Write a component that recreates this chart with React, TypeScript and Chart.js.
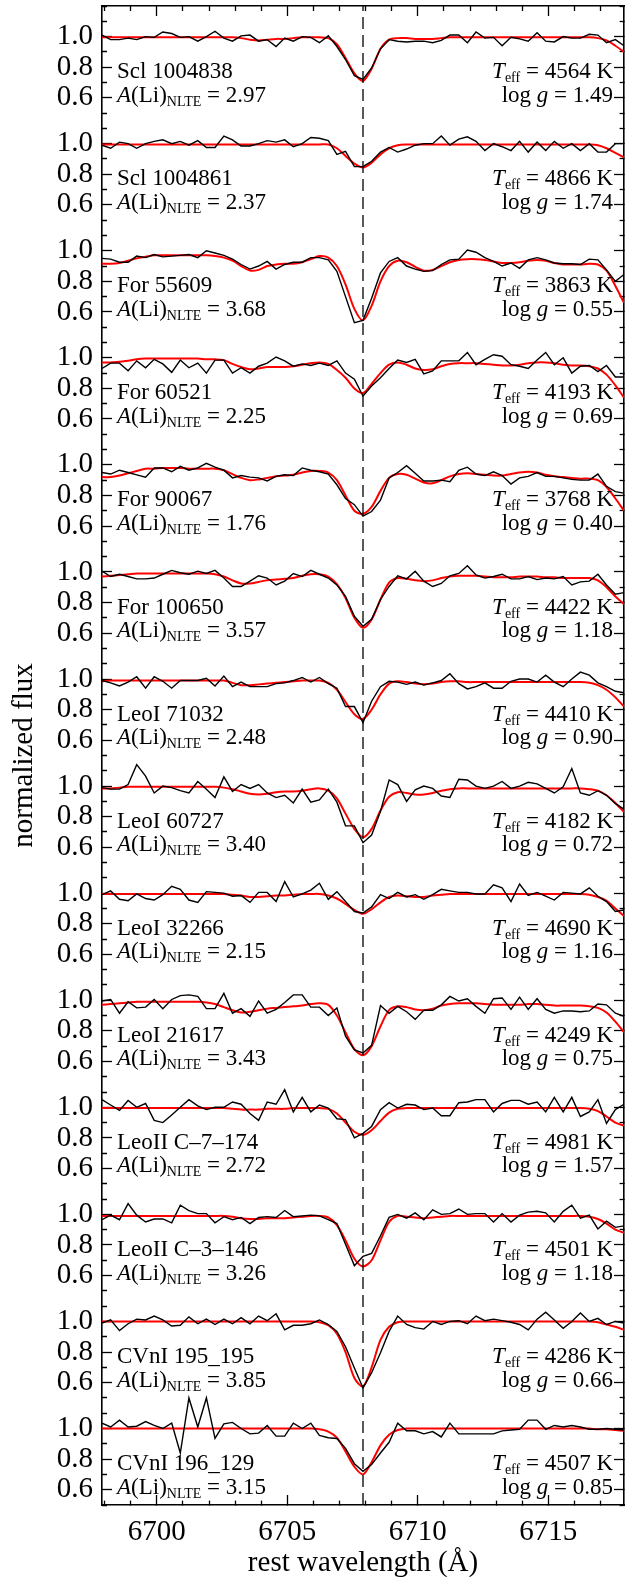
import React, { useEffect, useRef } from 'react';
import { Chart, registerables } from 'chart.js';

Chart.register(...registerables);

const FONT = 'Liberation Serif';
const W = 636;
const H = 1583;

// wavelength grid (Å)
const WAVE = [
  6697.90, 6698.23, 6698.57, 6698.90, 6699.23, 6699.57, 6699.90, 6700.23, 6700.57, 6700.90,
  6701.23, 6701.57, 6701.90, 6702.23, 6702.57, 6702.90, 6703.23, 6703.57, 6703.90, 6704.23,
  6704.57, 6704.90, 6705.23, 6705.57, 6705.90, 6706.23, 6706.57, 6706.90, 6707.23, 6707.57,
  6707.90, 6708.23, 6708.57, 6708.90, 6709.23, 6709.57, 6709.90, 6710.23, 6710.57, 6710.90,
  6711.23, 6711.57, 6711.90, 6712.23, 6712.57, 6712.90, 6713.23, 6713.57, 6713.90, 6714.23,
  6714.57, 6714.90, 6715.23, 6715.57, 6715.90, 6716.23, 6716.57, 6716.90, 6717.23, 6717.57,
  6717.90,
];

const STARS = ['Scl 1004838', 'Scl 1004861', 'For 55609', 'For 60521', 'For 90067', 'For 100650', 'LeoI 71032', 'LeoI 60727', 'LeoI 32266', 'LeoI 21617', 'LeoII C\u20137\u2013174', 'LeoII C\u20133\u2013146', 'CVnI 195_195', 'CVnI 196_129'];
const ALI_NLTE = ['2.97', '2.37', '3.68', '2.25', '1.76', '3.57', '2.48', '3.40', '2.15', '3.43', '2.72', '3.26', '3.85', '3.15'];
const TEFF = ['4564', '4866', '3863', '4193', '3768', '4422', '4410', '4182', '4690', '4249', '4981', '4501', '4286', '4507'];
const LOGG = ['1.49', '1.74', '0.55', '0.69', '0.40', '1.18', '0.90', '0.72', '1.16', '0.75', '1.57', '1.18', '0.66', '0.85'];

// observed spectra (black)
const OBS_SCL_1004838 = [1.01,.98,.98,.99,.98,1.0,.995,1.03,1.02,.995,1.0,.97,1.0,1.035,.99,.97,1.005,1.01,.97,.98,.935,.99,.97,1.0,.995,.96,1.005,.935,.85,.745,.72,.795,.92,.98,.97,.965,.97,.97,.96,.975,1.01,1.01,.96,1.03,.99,.995,.94,.995,.985,.97,1.025,.97,.965,1.0,.99,.99,1.015,1.01,.96,.98,.94];
const OBS_SCL_1004861 = [.99,.97,1.01,1.0,.97,1.0,1.015,1.025,1.0,1.015,.99,1.02,.975,.975,1.05,1.025,.985,.985,1.0,1.02,1.01,1.025,.98,1.0,1.04,1.035,1.02,.93,.95,.85,.85,.885,.945,.975,.945,.965,.99,1.0,1.0,1.05,.99,1.03,1.045,1.015,.955,1.0,.98,.955,1.015,.945,1.01,.955,1.015,.97,1.0,.955,1.0,.945,.945,1.0,1.0];
const OBS_FOR_55609 = [.95,.945,.925,.925,.965,.955,.975,.96,.965,.97,.975,.955,1.0,.985,.97,.945,.91,.88,.9,.93,.88,.91,.925,.925,.955,.955,.94,.865,.7,.53,.545,.69,.855,.93,.955,.9,.88,.865,.87,.91,.94,.945,1.005,.99,.955,.93,.9,.92,.885,.94,.955,.94,.92,.915,.915,.91,.945,.94,.875,.8,.845];
const OBS_FOR_60521 = [.93,.965,.965,.915,.98,.935,.99,.96,.905,.985,.935,.965,.9,.985,.985,.9,.935,.9,.945,.965,1.005,.98,.945,.96,.95,.965,.95,.98,.9,.86,.75,.815,.87,.93,.985,.97,.99,.895,.915,.98,.98,.98,1.035,.955,.99,1.02,1.01,.955,.945,.93,.985,1.035,.955,1.0,.9,.945,.95,.91,.95,.875,.875];
const OBS_FOR_90067 = [.95,.94,.965,.95,.935,.92,.98,.98,.955,.99,.965,.98,1.01,.985,.965,.915,.93,.92,.915,.895,.925,.935,.93,.98,.965,.955,.94,.87,.78,.74,.665,.695,.77,.915,.95,.995,.945,.895,.895,.9,.89,.965,.985,.94,.93,.955,.93,.875,.915,.925,.95,.925,.925,.915,.905,.9,.9,.94,.86,.825,.815];
const OBS_FOR_100650 = [1.005,.97,.985,.97,.955,.955,.96,.985,1.01,.995,.985,1.005,.99,1.01,.96,.905,.905,.94,.975,.96,.915,.94,.99,.97,1.01,.985,.96,.915,.84,.71,.645,.69,.82,.905,.975,.955,1.005,.94,.905,.925,.975,.99,1.04,.98,.96,.97,.985,.955,.955,.97,.95,.96,.955,.97,.915,.935,.94,.985,.915,.855,.865];
const OBS_LEOI_71032 = [.99,.975,.955,.98,1.015,.94,1.015,.985,.94,.99,.99,.99,1.005,.955,1.02,.95,.98,.95,.95,.95,.97,.975,.99,1.01,.98,1.01,.97,.94,.82,.82,.715,.855,.95,.985,.98,.965,.98,.96,.975,.99,1.035,.97,.935,.95,.975,.94,.94,.985,1.0,1.0,.98,1.025,.98,.95,1.0,1.045,1.025,.975,.95,.92,.91];
const OBS_LEOI_60727 = [.99,.98,.98,1.01,1.14,1.065,.955,1.0,.99,.97,.955,1.03,.98,.925,1.06,.965,1.01,.985,1.01,.955,.925,.94,.89,.98,.895,.91,.98,.895,.74,.74,.63,.68,.835,1.04,1.01,.9,.975,1.0,.985,.935,.925,1.045,1.04,1.0,.985,1.0,1.03,.985,1.0,1.025,1.015,.985,.955,.995,1.115,.955,.94,.97,.94,.885,.85];
const OBS_LEOI_32266 = [.99,1.015,.96,.95,.995,.965,.955,.99,1.045,1.025,.955,.94,1.01,1.005,1.0,.98,.985,.94,1.005,1.005,.945,1.075,.975,.995,1.02,1.065,.96,1.01,.945,.88,.87,.91,.99,.965,1.005,.975,.99,.96,.99,1.025,1.015,1.005,1.005,.995,.995,1.055,1.035,.945,1.06,.985,1.005,.98,.955,1.005,1.0,.995,1.035,.98,.945,.88,.89];
const OBS_LEOI_21617 = [.995,1.005,.915,.99,.95,.955,1.005,.945,1.005,1.03,1.035,1.025,.945,.945,1.045,.915,.945,.895,.995,.915,.94,.985,1.035,1.035,.955,.955,.9,.95,.765,.675,.655,.705,.965,.915,.96,.925,.875,.935,.935,.97,1.025,.995,1.01,.96,.915,1.01,1.015,.94,1.02,.94,1.01,.94,.915,.93,.93,.925,.93,.975,.97,.915,.895];
const OBS_LEOII_C7_174 = [1.05,1.015,.98,1.045,1.0,1.025,.915,.9,.95,1.0,1.05,1.01,.985,1.0,1.0,1.035,1.02,.96,.915,1.035,1.02,1.115,.97,1.065,.97,1.015,.995,.925,.92,.8,.83,.875,.985,1.03,.995,1.02,1.015,.985,.995,.945,.945,1.03,1.035,1.05,1.05,.97,1.025,1.045,1.045,1.02,1.035,.97,1.065,.97,1.065,.94,.97,1.05,.895,.985,1.02];
const OBS_LEOII_C3_146 = [.965,.995,.965,1.07,.995,.95,.97,.97,.945,1.06,1.025,1.005,1.005,.945,.985,.965,.98,.94,.98,.985,.98,1.025,.985,.99,.995,.99,.965,.94,.805,.665,.725,.745,.86,.98,1.0,.975,1.01,.965,1.03,1.0,1.005,1.035,1.0,1.005,1.005,.95,1.005,.95,.995,1.015,1.02,1.01,.95,1.02,1.06,.975,.995,.905,.955,.915,.925];
const OBS_CVNI_195_195 = [.99,1.01,.94,.985,1.015,1.01,1.035,1.01,.97,.975,1.03,.985,1.015,.98,1.015,.985,1.025,.985,1.035,1.005,1.05,.945,.975,.975,.985,1.01,.98,.935,.835,.695,.565,.665,.795,.935,1.035,.98,.96,.95,1.0,.98,1.0,1.005,.985,1.035,1.005,1.015,1.005,.995,.98,.945,1.015,1.06,1.01,.955,1.0,1.055,1.0,1.02,.98,1.0,.99];
const OBS_CVNI_196_129 = [1.035,1.01,1.055,1.01,1.015,1.045,1.02,1.0,1.035,.84,1.2,1.01,1.2,.935,1.03,1.04,1.0,.965,.97,1.02,.95,.95,1.035,1.0,1.035,.955,.94,.935,.87,.77,.72,.765,.84,.91,1.035,.985,.985,.965,.98,.945,1.035,.965,.965,.965,.965,.965,.985,.99,.995,1.055,1.055,.995,1.02,1.01,1.02,1.01,.995,.995,1.0,.995,.99];

// synthetic spectra (red)
const MOD_SCL_1004838 = [.995,.995,.995,.995,.995,.995,.995,.995,.995,.995,.995,.995,.995,.995,.995,.995,.99,.98,.975,.98,.985,.985,.99,.995,.995,.995,.99,.95,.86,.76,.71,.79,.92,.98,.99,.99,.985,.985,.985,.99,.995,.995,.995,.995,.995,.995,.995,.995,.995,.995,.995,.995,.995,.995,.995,.995,.995,.99,.975,.94,.9];
const MOD_SCL_1004861 = [.995,.995,.995,.995,.995,.995,.995,.995,.995,.995,.995,.995,.995,.995,.995,.995,.995,.995,.995,.995,.995,.995,.995,.995,.995,.995,.995,.97,.92,.87,.845,.875,.93,.97,.99,.995,.995,.995,.995,.995,.995,.995,.995,.995,.995,.995,.995,.995,.995,.995,.995,.995,.995,.995,.995,.995,.995,.99,.97,.94,.91];
const MOD_FOR_55609 = [.915,.915,.92,.935,.95,.96,.97,.97,.97,.97,.97,.97,.97,.965,.955,.935,.9,.87,.875,.9,.91,.915,.915,.925,.945,.965,.955,.9,.78,.62,.545,.64,.8,.9,.935,.925,.895,.87,.875,.9,.925,.94,.945,.945,.94,.93,.92,.92,.925,.935,.94,.935,.92,.91,.91,.91,.915,.91,.87,.77,.66];
const MOD_FOR_60521 = [.97,.97,.975,.98,.99,.995,.995,.995,.995,.995,.995,.995,.99,.99,.985,.96,.94,.925,.93,.94,.94,.94,.945,.955,.965,.97,.96,.92,.87,.8,.77,.83,.9,.955,.97,.955,.93,.92,.925,.945,.96,.965,.965,.965,.96,.955,.95,.95,.955,.965,.97,.97,.965,.955,.95,.95,.945,.93,.89,.82,.74];
const MOD_FOR_90067 = [.92,.92,.93,.945,.96,.975,.975,.98,.98,.98,.975,.975,.975,.975,.965,.94,.915,.9,.905,.915,.925,.93,.935,.95,.96,.96,.95,.9,.8,.7,.68,.725,.83,.915,.94,.935,.91,.885,.88,.9,.925,.94,.945,.94,.935,.93,.93,.94,.95,.955,.95,.935,.925,.92,.915,.91,.91,.9,.855,.78,.7];
const MOD_FOR_100650 = [.97,.975,.98,.985,.99,.99,.99,.99,.99,.99,.99,.99,.99,.985,.97,.945,.925,.925,.935,.945,.95,.955,.96,.975,.985,.985,.97,.92,.83,.7,.635,.69,.82,.93,.96,.955,.945,.94,.945,.96,.97,.975,.975,.975,.97,.965,.965,.965,.97,.97,.97,.965,.965,.96,.96,.96,.96,.945,.9,.84,.79];
const MOD_LEOI_71032 = [.985,.99,.99,.99,.99,.99,.99,.99,.99,.99,.99,.99,.99,.99,.99,.975,.96,.96,.965,.97,.975,.98,.985,.99,.99,.99,.975,.93,.85,.77,.74,.8,.9,.97,.985,.98,.97,.965,.97,.98,.985,.985,.98,.98,.98,.98,.98,.98,.98,.98,.98,.98,.98,.98,.98,.98,.975,.96,.93,.88,.82];
const MOD_LEOI_60727 = [.985,.985,.99,.995,.995,.995,.995,.995,.995,.995,.995,.995,.995,.995,.99,.98,.965,.95,.945,.95,.96,.965,.965,.97,.98,.985,.97,.92,.82,.72,.665,.72,.84,.93,.96,.955,.945,.945,.955,.97,.98,.985,.985,.985,.985,.985,.985,.985,.985,.985,.985,.985,.985,.985,.985,.985,.98,.97,.94,.89,.83];
const MOD_LEOI_32266 = [.995,.995,.995,.995,.995,.995,.995,.995,.995,.995,.995,.995,.995,.995,.995,.99,.985,.975,.975,.98,.985,.985,.99,.995,.995,.995,.985,.965,.93,.89,.865,.895,.94,.975,.985,.98,.975,.975,.985,.99,.995,.995,.995,.995,.995,.995,.995,.995,.995,.995,.995,.995,.995,.995,.995,.995,.99,.975,.95,.9,.85];
const MOD_LEOI_21617 = [.97,.975,.98,.985,.99,.99,.99,.99,.99,.99,.99,.99,.985,.975,.955,.935,.92,.925,.935,.945,.95,.955,.96,.965,.975,.98,.97,.9,.79,.68,.64,.7,.83,.935,.96,.955,.94,.935,.945,.965,.975,.98,.98,.98,.975,.97,.97,.97,.97,.975,.975,.97,.965,.965,.965,.965,.96,.95,.92,.86,.79];
const MOD_LEOII_C7_174 = [.995,.995,.995,.995,.995,.995,.995,.995,.995,.995,.995,.995,.995,.995,.995,.99,.985,.985,.985,.99,.99,.99,.995,.995,.995,.995,.99,.96,.9,.84,.82,.85,.91,.965,.99,.995,.995,.995,.995,.995,.995,.995,.995,.995,.995,.995,.995,.995,.995,.995,.995,.995,.995,.995,.995,.995,.99,.975,.94,.9,.88];
const MOD_LEOII_C3_146 = [.99,.99,.99,.99,.99,.99,.99,.99,.99,.99,.99,.99,.99,.99,.99,.985,.975,.97,.97,.975,.975,.975,.98,.985,.99,.99,.98,.93,.83,.71,.66,.7,.83,.95,.99,.985,.98,.975,.98,.985,.99,.99,.99,.99,.99,.99,.99,.99,.99,.99,.99,.99,.99,.99,.99,.99,.985,.97,.94,.9,.88];
const MOD_CVNI_195_195 = [1.0,1.0,1.0,1.0,1.0,1.0,1.0,1.0,1.0,1.0,1.0,1.0,1.0,1.0,1.0,1.0,1.0,1.0,1.0,1.0,1.0,1.0,1.0,1.0,1.0,.995,.975,.92,.8,.63,.575,.7,.88,.965,.995,1.0,1.0,1.0,1.0,1.0,1.0,1.0,1.0,1.0,1.0,1.0,1.0,1.0,1.0,1.0,1.0,1.0,1.0,1.0,1.0,1.0,1.0,.995,.98,.965,.945];
const MOD_CVNI_196_129 = [1.0,1.0,1.0,1.0,1.0,1.0,1.0,1.0,1.0,1.0,1.0,1.0,1.0,1.0,1.0,1.0,1.0,1.0,1.0,1.0,1.0,1.0,1.0,1.0,1.0,.995,.98,.94,.85,.75,.7,.78,.89,.96,.99,1.0,1.0,1.0,1.0,1.0,1.0,1.0,1.0,1.0,1.0,1.0,1.0,1.0,1.0,1.0,1.0,1.0,1.0,1.0,1.0,1.0,1.0,.995,.995,.99,.985];

const OBSERVED = [OBS_SCL_1004838, OBS_SCL_1004861, OBS_FOR_55609, OBS_FOR_60521, OBS_FOR_90067, OBS_FOR_100650, OBS_LEOI_71032, OBS_LEOI_60727, OBS_LEOI_32266, OBS_LEOI_21617, OBS_LEOII_C7_174, OBS_LEOII_C3_146, OBS_CVNI_195_195, OBS_CVNI_196_129];
const MODEL = [MOD_SCL_1004838, MOD_SCL_1004861, MOD_FOR_55609, MOD_FOR_60521, MOD_FOR_90067, MOD_FOR_100650, MOD_LEOI_71032, MOD_LEOI_60727, MOD_LEOI_32266, MOD_LEOI_21617, MOD_LEOII_C7_174, MOD_LEOII_C3_146, MOD_CVNI_195_195, MOD_CVNI_196_129];

const PANEL_OFFSET = 0.7;
const LI_LINE = 6707.9;
const X_MIN = 6697.9;
const X_MAX = 6717.9;
const Y_TOP_LOCAL = 1.2;
const Y_BOTTOM_LOCAL = 0.5;

const X_TICKS = [6698, 6699, 6700, 6701, 6702, 6703, 6704, 6705, 6706, 6707, 6708, 6709, 6710, 6711, 6712, 6713, 6714, 6715, 6716, 6717];
const X_TICK_LABELS = [6700, 6705, 6710, 6715];
const Y_PANEL_TICKS = [1.2, 1.1, 1.0, 0.9, 0.8, 0.7, 0.6];
const Y_TICK_LABELS = ['1.0', '0.8', '0.6'];

const N = STARS.length;
const Y_MAX = Y_TOP_LOCAL;
const Y_MIN = Y_BOTTOM_LOCAL - PANEL_OFFSET * (N - 1);

const yTickPairs: { v: number; label: string }[] = [];
for (let k = 0; k < N; k++) {
  const locals = k === N - 1 ? [...Y_PANEL_TICKS, Y_BOTTOM_LOCAL] : Y_PANEL_TICKS;
  for (const loc of locals) {
    const lab = loc.toFixed(1);
    yTickPairs.push({ v: Math.round((loc - PANEL_OFFSET * k) * 1000) / 1000, label: Y_TICK_LABELS.includes(lab) ? lab : '' });
  }
}
yTickPairs.sort((a, b) => a.v - b.v);
const Y_TICK_VALUES = yTickPairs.map((p) => p.v);
const Y_TICK_TEXT = yTickPairs.map((p) => p.label);

const ANN_SIZE = 23;
const SUB_SIZE = 14;

type Run = { text: string; size?: number; italic?: boolean; dy?: number };
function drawRuns(ctx: CanvasRenderingContext2D, runs: Run[], x: number, y: number, align: 'left' | 'right') {
  const widths: number[] = [];
  let total = 0;
  for (const r of runs) {
    ctx.font = `${r.italic ? 'italic ' : ''}${r.size ?? ANN_SIZE}px "${FONT}"`;
    const w = ctx.measureText(r.text).width;
    widths.push(w);
    total += w;
  }
  let cx = align === 'right' ? x - total : x;
  runs.forEach((r, i) => {
    ctx.font = `${r.italic ? 'italic ' : ''}${r.size ?? ANN_SIZE}px "${FONT}"`;
    ctx.fillText(r.text, cx, y + (r.dy ?? 0));
    cx += widths[i];
  });
}

const labelPlugin = {
  id: 'panelLabels',
  afterDraw(chart: any) {
    const { ctx, chartArea, scales } = chart;
    const ys = scales.y;
    ctx.save();
    ctx.fillStyle = '#000';
    ctx.textBaseline = 'alphabetic';
    ctx.textAlign = 'left';
    const xl = chartArea.left + 15;
    const xr = chartArea.right - 11;
    for (let k = 0; k < N; k++) {
      const y8 = ys.getPixelForValue(0.8 - PANEL_OFFSET * k) + 11;
      const y6 = ys.getPixelForValue(0.6 - PANEL_OFFSET * k) + 4;
      drawRuns(ctx, [{ text: STARS[k] }], xl, y8, 'left');
      drawRuns(ctx, [{ text: 'A', italic: true }, { text: '(Li)' }, { text: 'NLTE', size: SUB_SIZE, dy: 4 }, { text: ' = ' + ALI_NLTE[k] }], xl, y6, 'left');
      drawRuns(ctx, [{ text: 'T', italic: true }, { text: 'eff', size: SUB_SIZE, dy: 4 }, { text: ' = ' + TEFF[k] + ' K' }], xr, y8, 'right');
      drawRuns(ctx, [{ text: 'log ' }, { text: 'g', italic: true }, { text: ' = ' + LOGG[k] }], xr, y6, 'right');
    }
    ctx.restore();
  },
};

function fixBox(size: { width?: number; height?: number }) {
  return (s: any) => {
    if (size.width !== undefined) s.width = size.width;
    if (size.height !== undefined) s.height = size.height;
    s.paddingTop = 0;
    s.paddingBottom = 0;
    s.paddingLeft = 0;
    s.paddingRight = 0;
  };
}

export default function App() {
  const canvasRef = useRef<HTMLCanvasElement | null>(null);

  useEffect(() => {
    document.documentElement.style.overflow = 'hidden';
    document.body.style.margin = '0';
    document.body.style.overflow = 'hidden';
    const canvas = canvasRef.current;
    if (!canvas) return;

    const datasets: any[] = [];
    for (let k = 0; k < N; k++) {
      datasets.push({
        label: STARS[k] + ' observed',
        data: WAVE.map((w, i) => ({ x: w, y: OBSERVED[k][i] - PANEL_OFFSET * k })),
        borderColor: '#000000',
        borderWidth: 1.4,
        pointRadius: 0,
        tension: 0,
        fill: false,
        order: 1,
      });
      datasets.push({
        label: STARS[k] + ' synthetic',
        data: WAVE.map((w, i) => ({ x: w, y: MODEL[k][i] - PANEL_OFFSET * k })),
        borderColor: '#ff0000',
        borderWidth: 2,
        pointRadius: 0,
        tension: 0.3,
        fill: false,
        order: 2,
      });
    }
    datasets.push({
      label: 'Li I',
      data: [{ x: LI_LINE, y: Y_MIN }, { x: LI_LINE, y: Y_MAX }],
      borderColor: '#000000',
      borderWidth: 1.3,
      borderDash: [12, 6],
      pointRadius: 0,
      fill: false,
      order: 0,
    });

    const xMajor = (v: number) => X_TICK_LABELS.includes(v);
    const yMajor = (v: number) => {
      const idx = Y_TICK_VALUES.indexOf(v);
      return idx >= 0 && Y_TICK_TEXT[idx] !== '';
    };

    const tickFont = { family: FONT, size: 29 };
    const commonGrid = { drawOnChartArea: false, drawTicks: true, tickLength: -10, tickColor: '#000', tickWidth: 1.3 };
    const border = { display: true, color: '#000', width: 1.6 };

    const chart = new Chart(canvas, {
      type: 'line',
      data: { datasets },
      plugins: [labelPlugin],
      options: {
        animation: false,
        responsive: false,
        devicePixelRatio: 1,
        layout: { padding: 0 },
        plugins: { legend: { display: false }, tooltip: { enabled: false } },
        scales: {
          x: {
            type: 'linear',
            position: 'bottom',
            min: X_MIN,
            max: X_MAX,
            afterBuildTicks: (s: any) => { s.ticks = X_TICKS.map((v) => ({ value: v })); },
            afterFit: fixBox({ height: 78 }),
            ticks: {
              autoSkip: false,
              maxRotation: 0,
              padding: 20,
              color: '#000',
              font: tickFont,
              callback: (v: any) => (xMajor(Number(v)) ? String(v) : ''),
            },
            grid: { ...commonGrid, tickBorderDash: (c: any) => (xMajor(c.tick?.value) ? [] : [5, 100]) },
            border,
            title: { display: true, text: 'rest wavelength (\u00c5)', color: '#000', font: { family: FONT, size: 29 }, padding: { top: 0, bottom: 2 } },
          },
          xTop: {
            type: 'linear',
            position: 'top',
            min: X_MIN,
            max: X_MAX,
            afterBuildTicks: (s: any) => { s.ticks = X_TICKS.map((v) => ({ value: v })); },
            afterFit: fixBox({ height: 6 }),
            ticks: { display: false },
            grid: { ...commonGrid, tickBorderDash: (c: any) => (xMajor(c.tick?.value) ? [] : [0, 5, 5, 100]) },
            border,
          },
          y: {
            type: 'linear',
            position: 'left',
            min: Y_MIN,
            max: Y_MAX,
            afterBuildTicks: (s: any) => { s.ticks = Y_TICK_VALUES.map((v) => ({ value: v })); },
            afterFit: fixBox({ width: 102 }),
            ticks: {
              autoSkip: false,
              padding: 19,
              color: '#000',
              font: tickFont,
              callback: (_v: any, i: number) => Y_TICK_TEXT[i],
            },
            grid: { ...commonGrid, tickBorderDash: (c: any) => (yMajor(c.tick?.value) ? [] : [0, 5, 5, 100]) },
            border,
            title: { display: true, text: 'normalized flux', color: '#000', font: { family: FONT, size: 29 }, padding: { top: 7, bottom: 0 } },
          },
          yRight: {
            type: 'linear',
            position: 'right',
            min: Y_MIN,
            max: Y_MAX,
            afterBuildTicks: (s: any) => { s.ticks = Y_TICK_VALUES.map((v) => ({ value: v })); },
            afterFit: fixBox({ width: 12 }),
            ticks: { display: false },
            grid: { ...commonGrid, tickBorderDash: (c: any) => (yMajor(c.tick?.value) ? [] : [5, 100]) },
            border,
          },
        },
      } as any,
    });

    return () => chart.destroy();
  }, []);

  return (
    <div style={{ position: 'absolute', left: 0, top: 0, width: W, height: H, overflow: 'hidden', background: '#fff' }}>
      <canvas ref={canvasRef} width={W} height={H} style={{ display: 'block', width: W, height: H }} />
    </div>
  );
}
